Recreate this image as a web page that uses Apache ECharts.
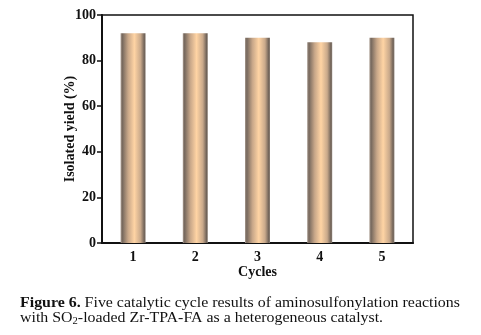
<!DOCTYPE html>
<html>
<head>
<meta charset="utf-8">
<script src="https://cdn.jsdelivr.net/npm/echarts@6/dist/echarts.min.js"></script>
<style>
  html, body { margin: 0; padding: 0; background: #fff; }
  #chart { width: 481px; height: 335px; }
</style>
</head>
<body>
<div id="chart"></div>
<script>
// Isolated yield over five reuse cycles of the catalyst
const cycles = ['1', '2', '3', '4', '5'];
const yields = [92, 92, 90, 88, 90];
const yTicks = { min: 0, max: 100, interval: 20 };

const serif = '"Liberation Serif", "DejaVu Serif", serif';

// Cylinder-like shading across each bar
const barFill = new echarts.graphic.LinearGradient(0, 0, 1, 0, [
  { offset: 0, color: '#a89a8f' },
  { offset: 0.07, color: '#76685d' },
  { offset: 0.3, color: '#c8a789' },
  { offset: 0.55, color: '#ffd4a4' },
  { offset: 0.8, color: '#c9a98b' },
  { offset: 0.95, color: '#6f6258' },
  { offset: 1, color: '#8f8379' }
]);

const chart = echarts.init(document.getElementById('chart'));
chart.setOption({
  animation: false,
  backgroundColor: '#fff',
  grid: {
    left: 102, top: 15, width: 311, height: 228,
    show: true, borderColor: '#111', borderWidth: 1.5
  },
  xAxis: {
    type: 'category',
    data: cycles,
    boundaryGap: true,
    name: 'Cycles',
    nameLocation: 'middle',
    nameGap: 22,
    nameMoveOverlap: false,
    nameTextStyle: { fontFamily: serif, fontWeight: 'bold', fontSize: 14, color: '#111' },
    axisLine: { lineStyle: { color: '#111', width: 2 } },
    axisTick: { alignWithLabel: true, length: 5, lineStyle: { color: '#111', width: 1.5 } },
    axisLabel: { fontFamily: serif, fontWeight: 'bold', fontSize: 14, color: '#111', margin: 7 }
  },
  yAxis: {
    type: 'value',
    min: yTicks.min, max: yTicks.max, interval: yTicks.interval,
    name: 'Isolated yield (%)',
    nameLocation: 'middle',
    nameGap: 25,
    nameMoveOverlap: false,
    nameTextStyle: { fontFamily: serif, fontWeight: 'bold', fontSize: 14, color: '#111' },
    axisLine: { show: true, lineStyle: { color: '#111', width: 2 } },
    axisTick: { show: true, length: 5, lineStyle: { color: '#111', width: 1.5 } },
    splitLine: { show: false },
    axisLabel: { fontFamily: serif, fontWeight: 'bold', fontSize: 14, color: '#111', margin: 6 }
  },
  series: [{
    type: 'bar',
    data: yields,
    barWidth: 25,
    itemStyle: { color: barFill }
  }],
  graphic: [
    {
      type: 'text', x: 20, y: 296, scaleX: 1.06,
      style: {
        text: '{b|Figure 6.} Five catalytic cycle results of aminosulfonylation reactions',
        font: '15px ' + serif, fill: '#111',
        rich: { b: { fontFamily: serif, fontWeight: 'bold', fontSize: 15, fill: '#111' } }
      }
    },
    {
      type: 'text', x: 20, y: 310, scaleX: 1.06,
      style: {
        text: 'with SO{s|2}-loaded Zr-TPA-FA as a heterogeneous catalyst.',
        font: '15px ' + serif, fill: '#111',
        rich: { s: { fontFamily: serif, fontSize: 10, fill: '#111', padding: [6, 0, 0, 0] } }
      }
    }
  ]
});
</script>
</body>
</html>
